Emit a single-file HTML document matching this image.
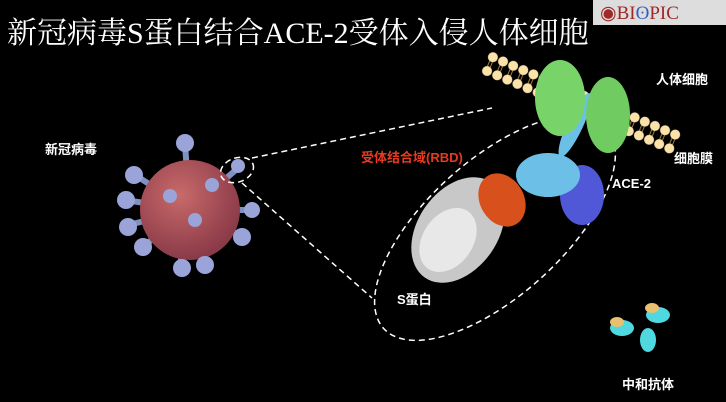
<!DOCTYPE html><html><head><meta charset="utf-8"><style>
body{margin:0;background:#000;width:726px;height:402px;overflow:hidden;position:relative;font-family:"Liberation Sans","Noto Sans CJK SC",sans-serif}
.t{position:absolute;color:#fff;font-weight:bold;font-size:13px;white-space:nowrap}
</style></head><body>
<svg width="726" height="402" style="position:absolute;left:0;top:0">
<defs>
<radialGradient id="v" cx="40%" cy="35%" r="65%"><stop offset="0" stop-color="#c86a6a"/><stop offset="1" stop-color="#8a3a48"/></radialGradient>
<pattern id="mem" width="11" height="26" patternUnits="userSpaceOnUse"><circle cx="5.5" cy="5.5" r="5" fill="#fbe2a8"/><circle cx="5.5" cy="20.5" r="5" fill="#fbe2a8"/><line x1="4" y1="10" x2="4" y2="16" stroke="#a08040"/><line x1="7" y1="10" x2="7" y2="16" stroke="#a08040"/></pattern>
</defs>
<rect x="593" y="0" width="133" height="25" fill="#ddd"/>
<text x="600" y="19" font-family="Liberation Serif" font-size="19" fill="#a02828">◉BI<tspan fill="#3060c0">ʘ</tspan>PIC</text>
<g transform="translate(490,50) rotate(23)"><rect x="0" y="0" width="209" height="26" fill="url(#mem)"/></g>
<g stroke="#8090c0" stroke-width="6" fill="#7a88c8">
<line x1="190" y1="210" x2="185" y2="145"/><line x1="190" y1="210" x2="135" y2="175"/><line x1="190" y1="210" x2="125" y2="200"/><line x1="190" y1="210" x2="128" y2="225"/><line x1="190" y1="210" x2="145" y2="245"/><line x1="190" y1="210" x2="180" y2="265"/><line x1="190" y1="210" x2="205" y2="262"/><line x1="190" y1="210" x2="240" y2="235"/><line x1="190" y1="210" x2="250" y2="210"/><line x1="190" y1="210" x2="238" y2="168"/>
</g>
<circle cx="190" cy="210" r="50" fill="url(#v)"/>
<g fill="#9aa4d8">
<circle cx="185" cy="143" r="9"/><circle cx="134" cy="175" r="9"/><circle cx="126" cy="200" r="9"/><circle cx="128" cy="227" r="9"/><circle cx="143" cy="247" r="9"/><circle cx="182" cy="268" r="9"/><circle cx="205" cy="265" r="9"/><circle cx="242" cy="237" r="9"/><circle cx="252" cy="210" r="8"/><circle cx="238" cy="166" r="7"/>
<circle cx="170" cy="196" r="7"/><circle cx="195" cy="220" r="7"/><circle cx="212" cy="185" r="7"/>
</g>
<g stroke="#fff" stroke-width="1.5" stroke-dasharray="6,4" fill="none">
<ellipse cx="237" cy="170" rx="17" ry="12" transform="rotate(-20 237 170)"/>
<line x1="252" y1="158" x2="492" y2="108"/>
<line x1="242" y1="183" x2="372" y2="298"/>
<ellipse cx="495" cy="228" rx="150" ry="68" transform="rotate(-42 495 228)"/>
</g>
<ellipse cx="458" cy="230" rx="40" ry="58" fill="#c8c8c8" transform="rotate(35 458 230)"/>
<ellipse cx="448" cy="240" rx="25" ry="35" fill="#e8e8e8" transform="rotate(35 448 240)"/>
<ellipse cx="502" cy="200" rx="22" ry="28" fill="#d8501c" transform="rotate(-30 502 200)"/>
<ellipse cx="582" cy="195" rx="22" ry="30" fill="#5058d8"/>
<ellipse cx="548" cy="175" rx="32" ry="22" fill="#6cc0e8"/>
<ellipse cx="575" cy="125" rx="8" ry="35" fill="#6cc0e8" transform="rotate(25 575 125)"/>
<ellipse cx="560" cy="98" rx="25" ry="38" fill="#78d468"/>
<ellipse cx="608" cy="115" rx="22" ry="38" fill="#70cc60"/>
<g fill="#50d8e0"><ellipse cx="622" cy="328" rx="12" ry="8"/><ellipse cx="658" cy="315" rx="12" ry="8"/><ellipse cx="648" cy="340" rx="8" ry="12"/></g>
<g fill="#e8c070"><ellipse cx="617" cy="322" rx="7" ry="5"/><ellipse cx="652" cy="308" rx="7" ry="5"/></g>
</svg>
<div style="position:absolute;left:7px;top:8px;color:#fff;font-family:'Liberation Serif','Noto Serif CJK SC',serif;font-size:30px;white-space:nowrap">新冠病毒S蛋白结合ACE-2受体入侵人体细胞</div>
<div class="t" style="left:45px;top:139px">新冠病毒</div>
<div class="t" style="left:656px;top:69px">人体细胞</div>
<div class="t" style="left:674px;top:148px">细胞膜</div>
<div class="t" style="left:612px;top:176px">ACE-2</div>
<div class="t" style="left:361px;top:147px;color:#e83a20">受体结合域(RBD)</div>
<div class="t" style="left:397px;top:289px">S蛋白</div>
<div class="t" style="left:622px;top:374px">中和抗体</div>
</body></html>
